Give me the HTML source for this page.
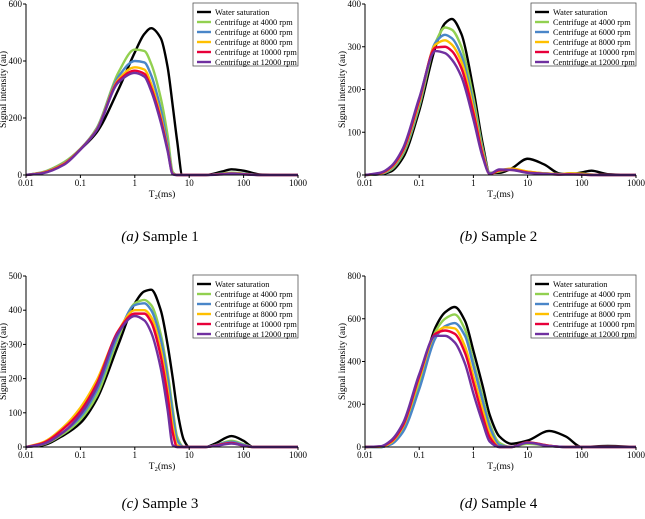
<!DOCTYPE html>
<html><head><meta charset="utf-8">
<style>
html,body{margin:0;padding:0;background:#fff;}
svg{display:block;font-family:"Liberation Serif",serif;}
</style></head>
<body>
<svg id="chart" width="645" height="519" viewBox="0 0 645 519"></svg>
<script>
// ---- data ----
const legendLabels = ["Water saturation","Centrifuge at 4000 rpm","Centrifuge at 6000 rpm","Centrifuge at 8000 rpm","Centrifuge at 10000 rpm","Centrifuge at 12000 rpm"];
const xTickLabels = ["0.01","0.1","1","10","100","1000"];

const tA = [0.01,0.02,0.05,0.1,0.2,0.5,1,1.5,2,3,4,5,6,7.5,10,20,40,60,100,200,1000];
const waterA = [0,8,40,90,150,300,430,495,515,480,380,240,120,0,0,0,12,20,15,2,0];
const r4000A = [0,10,45,92,165,360,440,435,390,270,140,10,0,0,0,0,5,8,5,0,0];
const r6000A = [0,9,42,91,163,345,400,395,350,230,110,6,0,0,0,0,4,6,4,0,0];
const r8000A = [0,8,40,90,160,335,378,370,320,205,95,4,0,0,0,0,3,5,3,0,0];
const r10000A = [0,7,38,90,158,330,366,355,305,195,90,3,0,0,0,0,3,5,3,0,0];
const r12000A = [0,6,36,89,157,325,358,345,295,185,85,2,0,0,0,0,2,4,2,0,0];
const yTicksA = [0,200,400,600];

const tB = [0.01,0.02,0.03,0.05,0.1,0.2,0.3,0.4,0.6,1,1.5,2,3,5,10,20,40,60,100,150,300,1000];
const waterB = [0,2,8,40,150,300,355,365,330,200,70,5,5,15,38,25,3,2,6,10,2,0];
const r4000B = [0,3,12,48,160,310,345,340,300,180,60,5,8,14,8,4,2,4,3,1,0,0];
const r6000B = [0,3,14,52,165,310,328,320,280,165,55,4,10,13,7,4,2,4,3,1,0,0];
const r8000B = [0,4,16,55,170,305,315,305,265,155,50,3,10,15,8,4,2,4,3,1,0,0];
const r10000B = [0,5,18,58,175,298,300,290,250,145,45,2,11,12,6,3,1,2,1,0,0,0];
const r12000B = [0,6,20,62,180,290,285,270,230,130,40,3,13,12,5,3,1,1,1,0,0,0];
const yTicksB = [0,100,200,300,400];

const tC = [0.01,0.02,0.05,0.1,0.2,0.5,1,1.5,2,3,4,5,6,8,10,20,30,60,100,150,1000];
const waterC = [0,5,35,70,140,300,420,455,460,400,300,200,110,20,0,0,10,32,18,0,0];
const r4000C = [0,7,40,80,150,320,420,430,415,330,220,110,30,0,0,0,5,18,8,0,0];
const r6000C = [0,9,45,88,165,330,415,420,400,315,205,95,20,0,0,0,5,15,6,0,0];
const r8000C = [0,13,60,115,195,340,400,400,380,285,170,60,5,0,0,0,4,12,3,0,0];
const r10000C = [0,11,55,105,185,340,390,390,365,265,150,40,0,0,0,0,4,12,4,0,0];
const r12000C = [0,8,45,95,175,335,383,370,335,230,110,5,0,0,0,0,3,10,4,0,0];
const yTicksC = [0,100,200,300,400,500];

const tD = [0.01,0.02,0.03,0.05,0.1,0.2,0.3,0.45,0.7,1,1.5,2,3,5,10,25,50,100,300,1000];
const waterD = [0,0,15,80,300,560,630,655,590,450,280,150,50,15,30,75,50,0,5,0];
const r4000D = [0,0,18,85,300,540,600,620,550,400,230,110,20,0,15,5,0,0,0,0];
const r6000D = [0,0,12,70,270,510,565,580,520,380,210,95,10,0,20,5,0,0,0,0];
const r8000D = [0,2,20,95,320,530,560,555,470,330,170,65,0,0,22,6,0,0,0,0];
const r10000D = [0,3,25,100,330,530,545,530,440,300,140,45,0,0,22,6,0,0,0,0];
const r12000D = [0,4,30,110,340,520,520,490,390,250,110,25,0,0,20,5,0,0,0,0];
const yTicksD = [0,200,400,600,800];

const colors = ["#000000","#92d050","#4a86c8","#ffc000","#e8003a","#7030a0"];

const panels = [
  {id:"a", cap:"Sample 1", x0:26, x1:298, yTop:4, yBot:175, t:tA, series:[waterA,r4000A,r6000A,r8000A,r10000A,r12000A], yt:yTicksA},
  {id:"b", cap:"Sample 2", x0:365, x1:636, yTop:4, yBot:175, t:tB, series:[waterB,r4000B,r6000B,r8000B,r10000B,r12000B], yt:yTicksB},
  {id:"c", cap:"Sample 3", x0:26, x1:298, yTop:276, yBot:447, t:tC, series:[waterC,r4000C,r6000C,r8000C,r10000C,r12000C], yt:yTicksC},
  {id:"d", cap:"Sample 4", x0:365, x1:636, yTop:276, yBot:447, t:tD, series:[waterD,r4000D,r6000D,r8000D,r10000D,r12000D], yt:yTicksD}
];

const NS = "http://www.w3.org/2000/svg";
const svg = document.getElementById("chart");
function mk(tag, attrs, parent){
  const e = document.createElementNS(NS, tag);
  for (const k in attrs) e.setAttribute(k, attrs[k]);
  (parent||svg).appendChild(e);
  return e;
}

// monotone cubic (Fritsch-Carlson) path through points in pixel space
function monotonePath(px, py){
  const n = px.length, dx = [], m = [], tg = [];
  for (let i = 0; i < n-1; i++){ dx[i] = px[i+1]-px[i]; m[i] = (py[i+1]-py[i])/dx[i]; }
  tg[0] = m[0]; tg[n-1] = m[n-2];
  for (let i = 1; i < n-1; i++){
    if (m[i-1]*m[i] <= 0) tg[i] = 0;
    else { const w1 = 2*dx[i]+dx[i-1], w2 = dx[i]+2*dx[i-1]; tg[i] = (w1+w2)/(w1/m[i-1]+w2/m[i]); }
  }
  let d = "M" + px[0].toFixed(2) + "," + py[0].toFixed(2);
  for (let i = 0; i < n-1; i++){
    const h = dx[i];
    d += "C" + (px[i]+h/3).toFixed(2) + "," + (py[i]+tg[i]*h/3).toFixed(2) + " " +
         (px[i+1]-h/3).toFixed(2) + "," + (py[i+1]-tg[i+1]*h/3).toFixed(2) + " " +
         px[i+1].toFixed(2) + "," + py[i+1].toFixed(2);
  }
  return d;
}

panels.forEach(p => {
  const yMax = p.yt[p.yt.length-1];
  const xS = v => p.x0 + (Math.log10(v) + 2) / 5 * (p.x1 - p.x0);
  const yS = v => p.yBot - v / yMax * (p.yBot - p.yTop);
  const g = mk("g", {});
  
  

  p.series.forEach((vals, si) => {
    const d = monotonePath(p.t.map(xS), vals.map(yS));
    const path = mk("path", {d:d, fill:"none", stroke:colors[si], "stroke-width":2.4, "stroke-linejoin":"round"}, g);
    
    
  });

  const ax = mk("path", {d:`M${p.x0},${p.yTop}V${p.yBot}H${p.x1}`, fill:"none", stroke:"#000", "stroke-width":1}, g);
  
  
  p.yt.forEach(v => {
    const y = yS(v);
    mk("line", {x1:p.x0-3, x2:p.x0, y1:y, y2:y, stroke:"#000"}, g);
    const t = mk("text", {x:p.x0-4, y:y+3, "font-size":9, "text-anchor":"end"}, g);
    t.textContent = v;
    
    
  });
  xTickLabels.forEach(lbl => {
    const x = xS(parseFloat(lbl));
    mk("line", {x1:x, x2:x, y1:p.yBot, y2:p.yBot+3, stroke:"#000"}, g);
    const t = mk("text", {x:x, y:p.yBot+11, "font-size":9, "text-anchor":"middle"}, g);
    t.textContent = lbl;
    
    
  });
  const xt = mk("text", {x:(p.x0+p.x1)/2, y:p.yBot+22, "font-size":9.5, "text-anchor":"middle"}, g);
  xt.innerHTML = 'T<tspan font-size="6.5" dy="2">2</tspan><tspan dy="-2">(ms)</tspan>';
  
  
  const yx = p.x0 - 20, ym = (p.yTop + p.yBot)/2;
  const ytl = mk("text", {x:yx, y:ym, "font-size":9.5, "text-anchor":"middle", transform:`rotate(-90 ${yx} ${ym})`}, g);
  ytl.textContent = "Signal intensity (au)";
  
  

  const lx = p.x1 - 105, ly = p.yTop - 1;
  const lg = mk("g", {}, g);
  
  
  mk("rect", {x:lx, y:ly, width:105, height:63, fill:"#fff", stroke:"#555", "stroke-width":0.8}, lg);
  legendLabels.forEach((lab, i) => {
    const yy = ly + 9 + i*10;
    mk("line", {x1:lx+4, x2:lx+18, y1:yy, y2:yy, stroke:colors[i], "stroke-width":2.4}, lg);
    const t = mk("text", {x:lx+22, y:yy+3, "font-size":8.3}, lg);
    t.textContent = lab;
    
    
  });

  const cy = p.id === "a" || p.id === "b" ? 241 : 508;
  const cap = mk("text", {x:(p.x0+p.x1)/2 - 2, y:cy, "font-size":15, "text-anchor":"middle"}, g);
  cap.innerHTML = '<tspan font-style="italic">(' + p.id + ')</tspan> ' + p.cap;
  
  
});
</script>
</body></html>
